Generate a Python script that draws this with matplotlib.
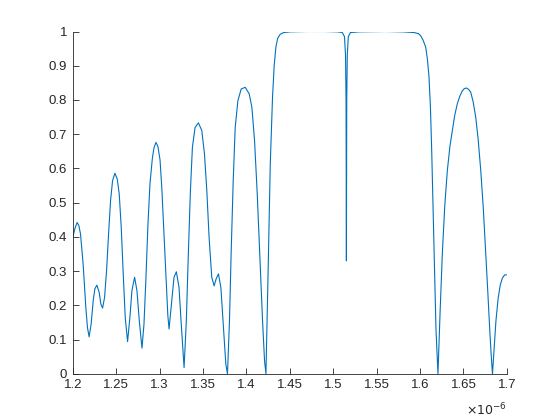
import matplotlib
matplotlib.use("Agg")
import matplotlib.pyplot as plt

# wavelength (x 1e-6 m) and reflectance
wl = [1.2000, 1.2025, 1.2050, 1.2070, 1.2089, 1.2119, 1.2150, 1.2169, 1.2188,
      1.2211, 1.2235, 1.2254, 1.2277, 1.2304, 1.2323, 1.2343, 1.2366, 1.2389,
      1.2412, 1.2435, 1.2458, 1.2485, 1.2512, 1.2535, 1.2558, 1.2581, 1.2604,
      1.2631, 1.2658, 1.2681, 1.2712, 1.2739, 1.2766, 1.2797, 1.2820, 1.2843,
      1.2866, 1.2889, 1.2916, 1.2935, 1.2958, 1.2980, 1.3005, 1.3025, 1.3043,
      1.3062, 1.3080, 1.3095, 1.3109, 1.3140, 1.3166, 1.3193, 1.3224, 1.3247,
      1.3282, 1.3308, 1.3331, 1.3355, 1.3378, 1.3409, 1.3447, 1.3486, 1.3517,
      1.3544, 1.3570, 1.3601, 1.3628, 1.3651, 1.3678, 1.3706, 1.3736, 1.3763,
      1.3782, 1.3805, 1.3824, 1.3848, 1.3871, 1.3902, 1.3940, 1.3986, 1.4032,
      1.4063, 1.4094, 1.4125, 1.4156, 1.4186, 1.4209, 1.4225, 1.4248, 1.4275,
      1.4301, 1.4320, 1.4340, 1.4360, 1.4390, 1.4430, 1.4506, 1.4700, 1.4900,
      1.5050, 1.5105, 1.5130, 1.5142, 1.5148, 1.5152, 1.5156, 1.5162, 1.5174,
      1.5199, 1.5300, 1.5600, 1.5800, 1.5930, 1.5980, 1.6007, 1.6035, 1.6065,
      1.6085, 1.6103, 1.6120, 1.6134, 1.6150, 1.6165, 1.6184, 1.6207, 1.6230,
      1.6257, 1.6285, 1.6315, 1.6345, 1.6373, 1.6400, 1.6430, 1.6460, 1.6488,
      1.6510, 1.6534, 1.6560, 1.6584, 1.6612, 1.6642, 1.6670, 1.6700, 1.6730,
      1.6758, 1.6782, 1.6804, 1.6820, 1.6835, 1.6845, 1.6855, 1.6875, 1.6900,
      1.6925, 1.6950, 1.6975, 1.7000]
refl = [0.399, 0.425, 0.442, 0.433, 0.408, 0.321, 0.194, 0.135, 0.108,
        0.145, 0.213, 0.248, 0.259, 0.238, 0.204, 0.192, 0.223, 0.301,
        0.408, 0.506, 0.564, 0.586, 0.569, 0.525, 0.428, 0.292, 0.165,
        0.094, 0.165, 0.243, 0.282, 0.243, 0.155, 0.075, 0.145, 0.282,
        0.438, 0.555, 0.628, 0.660, 0.676, 0.665, 0.625, 0.545, 0.447,
        0.350, 0.250, 0.170, 0.131, 0.213, 0.282, 0.298, 0.252, 0.155,
        0.018, 0.155, 0.350, 0.535, 0.662, 0.720, 0.733, 0.711, 0.642,
        0.535, 0.399, 0.282, 0.257, 0.277, 0.292, 0.252, 0.135, 0.028,
        0.000, 0.155, 0.350, 0.564, 0.720, 0.798, 0.832, 0.837, 0.818,
        0.779, 0.681, 0.525, 0.340, 0.155, 0.038, 0.000, 0.272, 0.613,
        0.808, 0.900, 0.955, 0.980, 0.992, 0.997, 0.999, 1.000, 1.000,
        0.999, 0.997, 0.985, 0.930, 0.800, 0.330, 0.800, 0.930, 0.985,
        0.997, 0.999, 1.000, 0.999, 0.997, 0.994, 0.988, 0.975, 0.955,
        0.920, 0.870, 0.780, 0.660, 0.490, 0.320, 0.130, 0.000, 0.170,
        0.350, 0.490, 0.594, 0.665, 0.711, 0.755, 0.789, 0.812, 0.827,
        0.833, 0.835, 0.831, 0.823, 0.795, 0.750, 0.685, 0.594, 0.480,
        0.350, 0.235, 0.126, 0.055, 0.000, 0.040, 0.080, 0.155, 0.220,
        0.260, 0.280, 0.289, 0.289]

xticks = [1.2, 1.25, 1.3, 1.35, 1.4, 1.45, 1.5, 1.55, 1.6, 1.65, 1.7]
xlabels = ["1.2", "1.25", "1.3", "1.35", "1.4", "1.45", "1.5", "1.55", "1.6", "1.65", "1.7"]
yticks = [0, 0.1, 0.2, 0.3, 0.4, 0.5, 0.6, 0.7, 0.8, 0.9, 1]
ylabels = ["0", "0.1", "0.2", "0.3", "0.4", "0.5", "0.6", "0.7", "0.8", "0.9", "1"]

plt.rcParams['font.family'] = ['Liberation Sans', 'DejaVu Sans']
ink = '#262626'

fig = plt.figure(figsize=(5.6, 4.2), dpi=100)
ax = fig.add_axes([0.13, 0.11, 0.775, 0.815])
ax.plot(wl, refl, color='#0072BD', linewidth=0.8)

ax.set_xlim(1.2, 1.7)
ax.set_ylim(0, 1)
ax.set_xticks(xticks)
ax.set_xticklabels(xlabels)
ax.set_yticks(yticks)
ax.set_yticklabels(ylabels)
ax.tick_params(direction='in', length=4, width=0.6, colors=ink, labelsize=9.5, pad=4)
for s in ['top', 'right']:
    ax.spines[s].set_visible(False)
for s in ['left', 'bottom']:
    ax.spines[s].set_color(ink)
    ax.spines[s].set_linewidth(0.6)

# MATLAB-style exponent under the right end of the x axis
ax.text(1.0, -0.082, r'$\times10^{-6}$', transform=ax.transAxes, ha='right', va='top',
        fontsize=9, color=ink)

fig.savefig('out.png', dpi=100)
